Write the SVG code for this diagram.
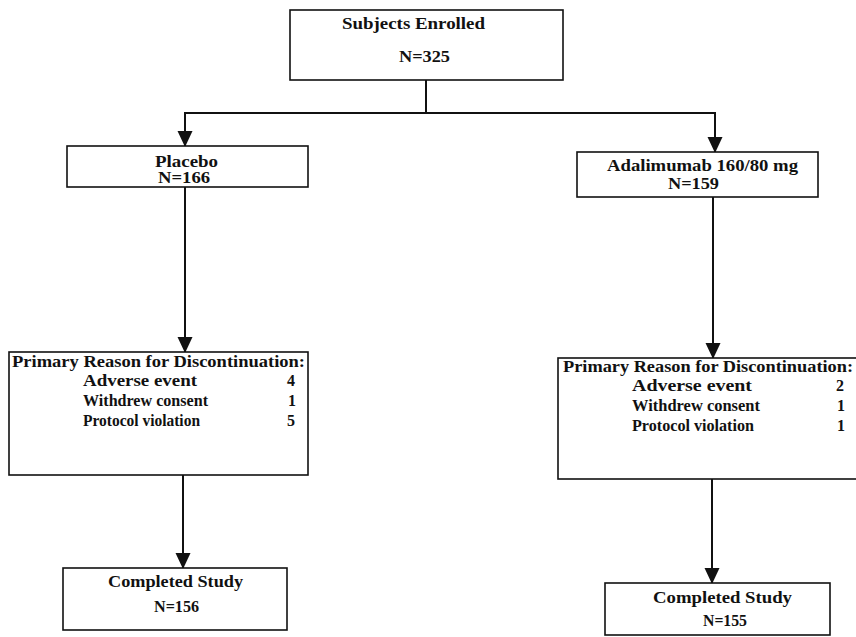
<svg xmlns="http://www.w3.org/2000/svg" width="856" height="637" viewBox="0 0 856 637">
  <style>
    .box { fill: #ffffff; stroke: #111111; stroke-width: 1.6; }
    .t { font-family: "Liberation Serif", "Times New Roman", serif; font-weight: bold; font-size: 16px; fill: #111111; }
    .c { text-anchor: middle; }
    .link { fill: none; stroke: #111111; stroke-width: 2; }
  </style>
  <defs>
    <marker id="arrow" markerUnits="userSpaceOnUse" markerWidth="16" markerHeight="16" refX="15" refY="7.5" orient="auto">
      <path d="M0,0 L16,7.5 L0,15 z" fill="#111111"/>
    </marker>
  </defs>
  <rect width="856" height="637" fill="#ffffff"/>

  <!-- connectors -->
  <g id="connectors">
    <path class="link" d="M426,80 V113"/>
    <path class="link" d="M426,113 H185 V146" marker-end="url(#arrow)"/>
    <path class="link" d="M426,113 H715 V152" marker-end="url(#arrow)"/>
    <path class="link" d="M185,187 V352" marker-end="url(#arrow)"/>
    <path class="link" d="M713,197 V358" marker-end="url(#arrow)"/>
    <path class="link" d="M183,475 V568" marker-end="url(#arrow)"/>
    <path class="link" d="M712,479 V583" marker-end="url(#arrow)"/>
  </g>

  <!-- enrollment -->
  <g id="enrolled">
    <rect class="box" x="290" y="10" width="273" height="70"/>
    <text class="t" x="342" y="29" textLength="143" lengthAdjust="spacingAndGlyphs">Subjects Enrolled</text>
    <text class="t" x="399" y="62" textLength="51" lengthAdjust="spacingAndGlyphs">N=325</text>
  </g>

  <!-- treatment arms -->
  <g id="placebo">
    <rect class="box" x="67" y="146" width="241" height="41"/>
    <text class="t" x="155" y="167" textLength="63" lengthAdjust="spacingAndGlyphs">Placebo</text>
    <text class="t" x="158" y="183" textLength="52" lengthAdjust="spacingAndGlyphs">N=166</text>
  </g>

  <g id="adalimumab">
    <rect class="box" x="577" y="152" width="241" height="45"/>
    <text class="t" x="607" y="171" textLength="191" lengthAdjust="spacingAndGlyphs">Adalimumab 160/80 mg</text>
    <text class="t" x="668" y="189" textLength="51" lengthAdjust="spacingAndGlyphs">N=159</text>
  </g>

  <!-- discontinuation -->
  <g id="disc-placebo">
    <rect class="box" x="9" y="352" width="299" height="123"/>
    <text class="t" x="12" y="367" textLength="293" lengthAdjust="spacingAndGlyphs">Primary Reason for Discontinuation:</text>
    <text class="t" x="83" y="386" textLength="114" lengthAdjust="spacingAndGlyphs">Adverse event</text>
    <text class="t" x="287" y="386">4</text>
    <text class="t" x="83" y="406" textLength="125" lengthAdjust="spacingAndGlyphs">Withdrew consent</text>
    <text class="t" x="288" y="406">1</text>
    <text class="t" x="83" y="426" textLength="117" lengthAdjust="spacingAndGlyphs">Protocol violation</text>
    <text class="t" x="287" y="426">5</text>
  </g>

  <g id="disc-adalimumab">
    <rect class="box" x="558" y="358" width="300" height="121"/>
    <text class="t" x="563" y="372" textLength="290" lengthAdjust="spacingAndGlyphs">Primary Reason for Discontinuation:</text>
    <text class="t" x="632" y="391" textLength="120" lengthAdjust="spacingAndGlyphs">Adverse event</text>
    <text class="t" x="836" y="391">2</text>
    <text class="t" x="632" y="411" textLength="128" lengthAdjust="spacingAndGlyphs">Withdrew consent</text>
    <text class="t" x="837" y="411">1</text>
    <text class="t" x="632" y="431" textLength="122" lengthAdjust="spacingAndGlyphs">Protocol violation</text>
    <text class="t" x="837" y="431">1</text>
  </g>

  <!-- completion -->
  <g id="completed-placebo">
    <rect class="box" x="63" y="568" width="224" height="62"/>
    <text class="t" x="108" y="587" textLength="135" lengthAdjust="spacingAndGlyphs">Completed Study</text>
    <text class="t" x="154" y="612" textLength="45" lengthAdjust="spacingAndGlyphs">N=156</text>
  </g>

  <g id="completed-adalimumab">
    <rect class="box" x="605" y="583" width="225" height="52"/>
    <text class="t" x="653" y="603" textLength="139" lengthAdjust="spacingAndGlyphs">Completed Study</text>
    <text class="t" x="703" y="626" textLength="44" lengthAdjust="spacingAndGlyphs">N=155</text>
  </g>
</svg>
